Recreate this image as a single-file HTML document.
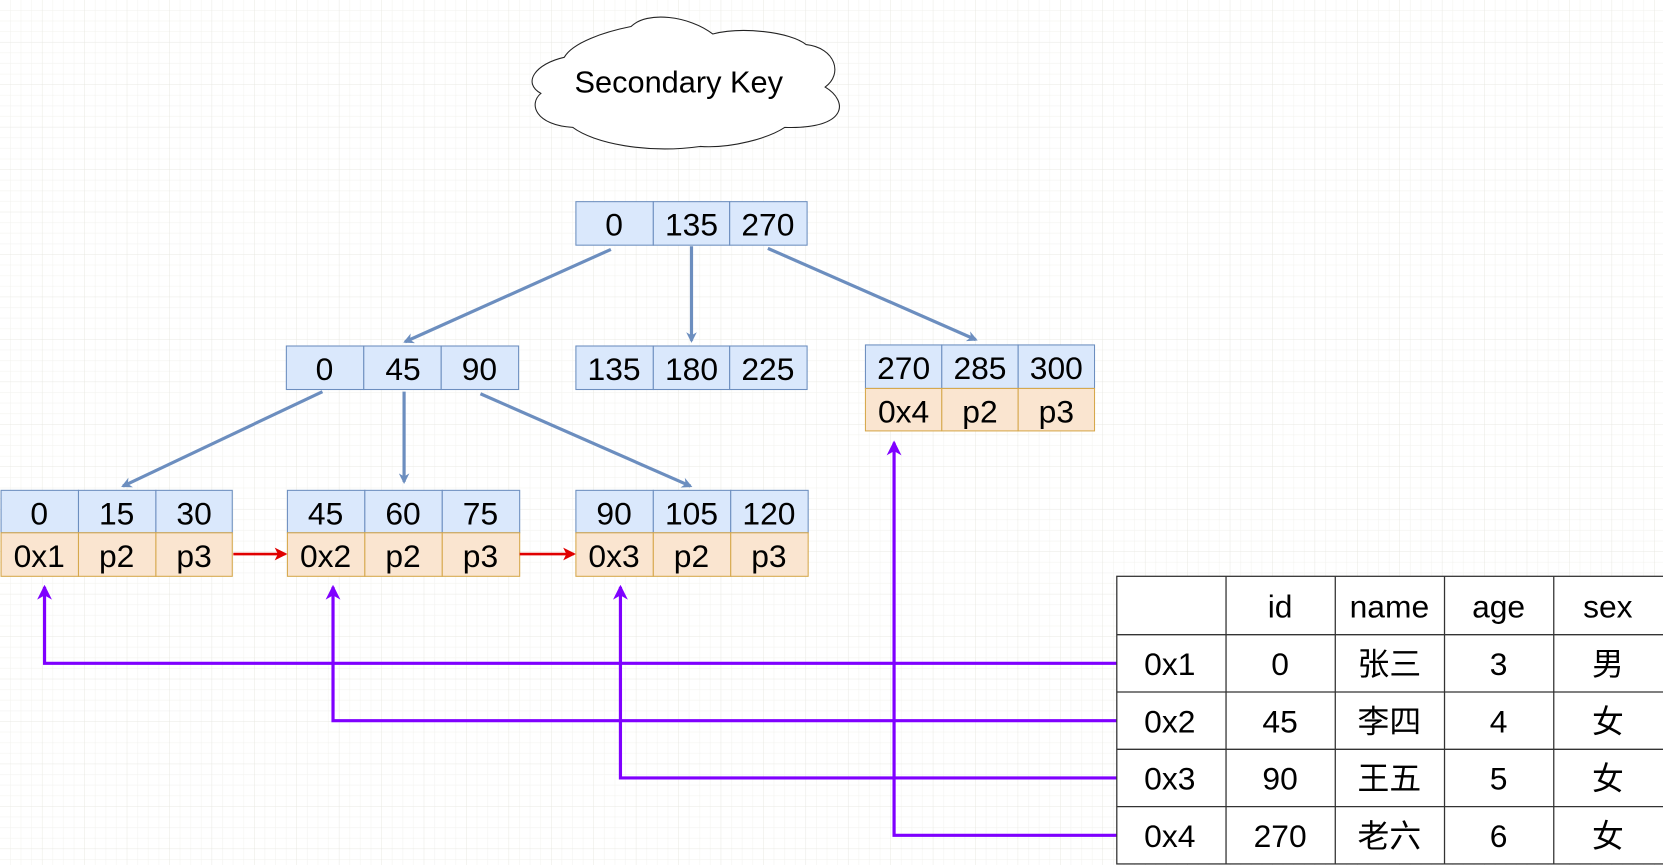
<!DOCTYPE html>
<html><head><meta charset="utf-8"><style>
html,body{margin:0;padding:0;background:#fff;}
svg{display:block}
text{font-family:"Liberation Sans","Noto Sans CJK SC",sans-serif;}
</style></head><body>
<svg width="1663" height="865" viewBox="0 0 1568 815" preserveAspectRatio="none" xmlns="http://www.w3.org/2000/svg">
<defs>
<pattern id="g" width="10" height="10" patternUnits="userSpaceOnUse"><path d="M10 0V10M0 10H10" stroke="#f1f1ec" stroke-width="0.8" fill="none"/></pattern>
<pattern id="G" width="40" height="40" patternUnits="userSpaceOnUse"><rect width="40" height="40" fill="url(#g)"/><path d="M40 0V40M0 40H40" stroke="#e6e6e0" stroke-width="0.8" fill="none"/></pattern>
<marker id="ab" markerWidth="10" markerHeight="10" refX="8" refY="5" orient="auto" markerUnits="userSpaceOnUse"><path d="M0 0L10 5L0 10L3 5Z" fill="#6c8ebf"/></marker>
<marker id="ar" markerWidth="12" markerHeight="12" refX="10" refY="6" orient="auto" markerUnits="userSpaceOnUse"><path d="M0 0L12 6L0 12L3 6Z" fill="#e00000"/></marker>
<marker id="ap" markerWidth="14" markerHeight="14" refX="12" refY="7" orient="auto" markerUnits="userSpaceOnUse"><path d="M0 0L14 7L0 14L4 7Z" fill="#7f00ff"/></marker>
</defs>
<rect width="1568" height="815" fill="url(#G)"/>

<!-- cloud -->
<path d="M532 54 C505 60 492 78 510 88 C498 98 505 118 540 120 C560 135 610 145 660 138 C690 140 725 130 740 120 C800 122 800 95 778 82 C795 70 788 45 760 42 C745 30 700 25 672 32 C650 15 610 10 595 25 C570 30 540 40 532 54 Z" fill="#fff" stroke="#222" stroke-width="1"/>
<text x="640" y="87" font-size="29" text-anchor="middle">Secondary Key</text>

<g stroke-width="1">
<!-- root -->
<g fill="#dae8fc" stroke="#6c8ebf">
<rect x="543" y="190" width="73" height="41"/><rect x="616" y="190" width="72" height="41"/><rect x="688" y="190" width="73" height="41"/>
<rect x="270" y="326" width="73" height="41"/><rect x="343" y="326" width="73" height="41"/><rect x="416" y="326" width="73" height="41"/>
<rect x="543" y="326" width="73" height="41"/><rect x="616" y="326" width="72" height="41"/><rect x="688" y="326" width="73" height="41"/>
<rect x="816" y="325" width="72" height="41"/><rect x="888" y="325" width="72" height="41"/><rect x="960" y="325" width="72" height="41"/>
<rect x="1" y="462" width="73" height="40"/><rect x="74" y="462" width="73" height="40"/><rect x="147" y="462" width="72" height="40"/>
<rect x="271" y="462" width="73" height="40"/><rect x="344" y="462" width="73" height="40"/><rect x="417" y="462" width="73" height="40"/>
<rect x="543" y="462" width="73" height="40"/><rect x="616" y="462" width="73" height="40"/><rect x="689" y="462" width="73" height="40"/>
</g>
<g fill="#fae5d0" stroke="#d6a84c">
<rect x="816" y="366" width="72" height="40"/><rect x="888" y="366" width="72" height="40"/><rect x="960" y="366" width="72" height="40"/>
<rect x="1" y="502" width="73" height="41"/><rect x="74" y="502" width="73" height="41"/><rect x="147" y="502" width="72" height="41"/>
<rect x="271" y="502" width="73" height="41"/><rect x="344" y="502" width="73" height="41"/><rect x="417" y="502" width="73" height="41"/>
<rect x="543" y="502" width="73" height="41"/><rect x="616" y="502" width="73" height="41"/><rect x="689" y="502" width="73" height="41"/>
</g>
</g>

<g font-size="30" text-anchor="middle">
<text x="579" y="222">0</text><text x="652" y="222">135</text><text x="724" y="222">270</text>
<text x="306" y="358">0</text><text x="380" y="358">45</text><text x="452" y="358">90</text>
<text x="579" y="358">135</text><text x="652" y="358">180</text><text x="724" y="358">225</text>
<text x="852" y="357">270</text><text x="924" y="357">285</text><text x="996" y="357">300</text>
<text x="852" y="398">0x4</text><text x="924" y="398">p2</text><text x="996" y="398">p3</text>
<text x="37" y="494">0</text><text x="110" y="494">15</text><text x="183" y="494">30</text>
<text x="37" y="534">0x1</text><text x="110" y="534">p2</text><text x="183" y="534">p3</text>
<text x="307" y="494">45</text><text x="380" y="494">60</text><text x="453" y="494">75</text>
<text x="307" y="534">0x2</text><text x="380" y="534">p2</text><text x="453" y="534">p3</text>
<text x="579" y="494">90</text><text x="652" y="494">105</text><text x="725" y="494">120</text>
<text x="579" y="534">0x3</text><text x="652" y="534">p2</text><text x="725" y="534">p3</text>
</g>

<g stroke="#6c8ebf" stroke-width="3" fill="none" marker-end="url(#ab)">
<path d="M576 235L382 322"/><path d="M652 232V321"/><path d="M724 234L920 320"/>
<path d="M304 369L116 458"/><path d="M381 369V454"/><path d="M453 371L651 458"/>
</g>
<g stroke="#e00000" stroke-width="2.5" fill="none" marker-end="url(#ar)">
<path d="M220 522H269"/><path d="M490 522H541"/>
</g>
<g stroke="#7f00ff" stroke-width="3" fill="none" marker-end="url(#ap)">
<path d="M1053 625H42V553"/><path d="M1053 679H314V553"/><path d="M1053 733H585V553"/><path d="M1053 787H843V417"/>
</g>

<!-- table -->
<rect x="1053" y="543" width="520" height="271" fill="#fff" stroke="#333" stroke-width="1.2"/>
<g stroke="#333" stroke-width="1.2">
<path d="M1156 543V814M1259 543V814M1362 543V814M1465 543V814"/>
<path d="M1053 598H1568M1053 652H1568M1053 706H1568M1053 760H1568"/>
</g>
<g font-size="30" text-anchor="middle">
<text x="1207" y="582">id</text><text x="1310" y="582">name</text><text x="1413" y="582">age</text><text x="1516" y="582">sex</text>
<text x="1103" y="636">0x1</text><text x="1207" y="636">0</text><text x="1310" y="636">张三</text><text x="1413" y="636">3</text><text x="1516" y="636">男</text>
<text x="1103" y="690">0x2</text><text x="1207" y="690">45</text><text x="1310" y="690">李四</text><text x="1413" y="690">4</text><text x="1516" y="690">女</text>
<text x="1103" y="744">0x3</text><text x="1207" y="744">90</text><text x="1310" y="744">王五</text><text x="1413" y="744">5</text><text x="1516" y="744">女</text>
<text x="1103" y="798">0x4</text><text x="1207" y="798">270</text><text x="1310" y="798">老六</text><text x="1413" y="798">6</text><text x="1516" y="798">女</text>
</g>
</svg>
</body></html>
